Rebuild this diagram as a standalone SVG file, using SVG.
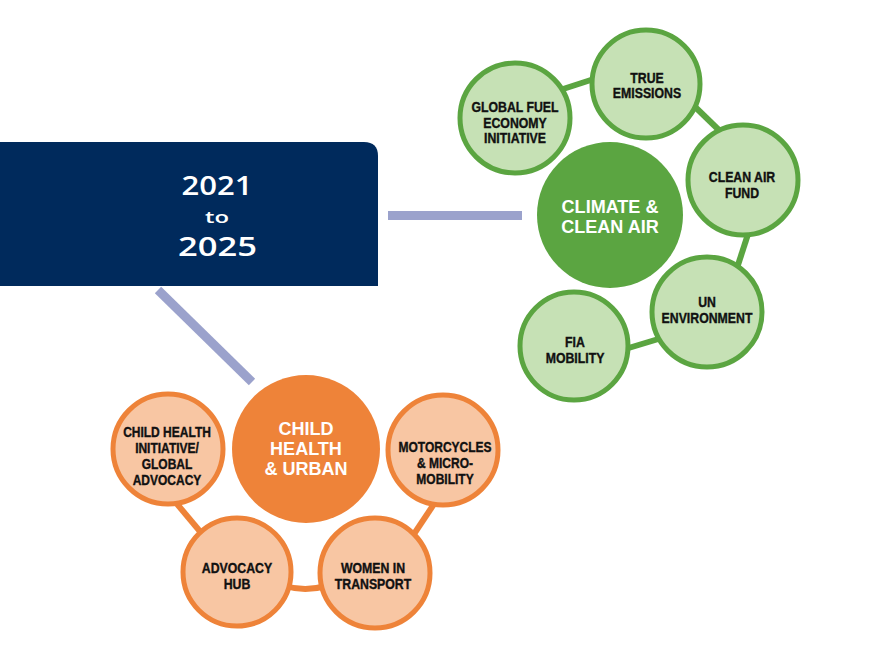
<svg xmlns="http://www.w3.org/2000/svg" width="889" height="665" viewBox="0 0 889 665">
<style>
.conn{stroke:#9ba2cc;stroke-width:9;fill:none}
.gl{stroke:#5ba541;stroke-width:6;fill:none}
.ol{stroke:#ee8339;stroke-width:6;fill:none}
.gs{fill:#c6e1b5;stroke:#5ba541;stroke-width:5}
.os{fill:#f8c6a3;stroke:#ee8339;stroke-width:5}
.lab{font-family:"Liberation Sans",Arial,sans-serif;font-weight:bold;font-size:15px;fill:#111;stroke:#111;stroke-width:0.4;text-anchor:middle}
.big{font-family:"Liberation Sans",Arial,sans-serif;font-weight:bold;font-size:19px;fill:#fff;text-anchor:middle}
.yr{font-family:"Open Sans",sans-serif;font-weight:600;fill:#fff;text-anchor:middle}
</style>
<rect width="889" height="665" fill="#fff"/>
<g id="connectors">
<line class="conn" x1="388" y1="215.5" x2="522" y2="215.5"/>
<line class="conn" x1="158" y1="290" x2="252" y2="382" stroke-width="10"/>
<line class="gl" x1="560" y1="90" x2="597" y2="78"/>
<line class="gl" x1="690" y1="102" x2="722" y2="133"/>
<line class="gl" x1="750" y1="228" x2="737" y2="268"/>
<line class="gl" x1="622" y1="350" x2="665" y2="337"/>
<line class="ol" x1="172" y1="498" x2="203" y2="535"/>
<path class="ol" d="M285 586 Q305 592 326 586"/>
<line class="ol" x1="438" y1="498" x2="410" y2="540"/>
</g>
<g id="period">
<path d="M-5 142 H364 Q378 142 378 156 V286 H-5 Z" fill="#002a5c"/>
<text class="yr" x="217" y="195" font-size="27" textLength="71" lengthAdjust="spacingAndGlyphs">2021</text>
<text class="yr" x="217" y="223" font-size="17" font-weight="400" textLength="24" lengthAdjust="spacingAndGlyphs">to</text>
<text class="yr" x="217.5" y="256" font-size="27" textLength="79" lengthAdjust="spacingAndGlyphs">2025</text>
</g>
<g id="climate">
<circle cx="610" cy="215" r="73" fill="#5ba541"/>
<g transform="translate(610,0) scale(0.95,1)"><text class="big" x="0" y="213">CLIMATE &amp;</text><text class="big" x="0" y="233">CLEAN AIR</text></g>
</g>
<g id="gfei">
<circle class="gs" cx="515" cy="118" r="55"/>
<g transform="translate(515,0) scale(0.82,1)"><text class="lab" x="0" y="112">GLOBAL FUEL</text><text class="lab" x="0" y="128">ECONOMY</text><text class="lab" x="0" y="143">INITIATIVE</text></g>
</g>
<g id="true-emissions">
<circle class="gs" cx="646" cy="84" r="54"/>
<g transform="translate(647,0) scale(0.82,1)"><text class="lab" x="0" y="83">TRUE</text><text class="lab" x="0" y="98">EMISSIONS</text></g>
</g>
<g id="clean-air-fund">
<circle class="gs" cx="743" cy="180" r="55"/>
<g transform="translate(742,0) scale(0.82,1)"><text class="lab" x="0" y="182">CLEAN AIR</text><text class="lab" x="0" y="198">FUND</text></g>
</g>
<g id="un-environment">
<circle class="gs" cx="707" cy="312" r="55"/>
<g transform="translate(707,0) scale(0.82,1)"><text class="lab" x="0" y="307">UN</text><text class="lab" x="0" y="323">ENVIRONMENT</text></g>
</g>
<g id="fia-mobility">
<circle class="gs" cx="574" cy="346" r="54"/>
<g transform="translate(575,0) scale(0.82,1)"><text class="lab" x="0" y="347">FIA</text><text class="lab" x="0" y="363">MOBILITY</text></g>
</g>
<g id="child-health">
<circle cx="306" cy="449" r="74" fill="#ee8339"/>
<g transform="translate(306,0) scale(0.95,1)"><text class="big" x="0" y="435">CHILD</text><text class="big" x="0" y="455">HEALTH</text><text class="big" x="0" y="475">&amp; URBAN</text></g>
</g>
<g id="chi">
<circle class="os" cx="168" cy="449" r="55"/>
<g transform="translate(167,0) scale(0.8,1)"><text class="lab" x="0" y="437">CHILD HEALTH</text><text class="lab" x="0" y="453">INITIATIVE/</text><text class="lab" x="0" y="469">GLOBAL</text><text class="lab" x="0" y="485">ADVOCACY</text></g>
</g>
<g id="motorcycles">
<circle class="os" cx="443" cy="450" r="55"/>
<g transform="translate(445,0) scale(0.8,1)"><text class="lab" x="0" y="452">MOTORCYCLES</text><text class="lab" x="0" y="468">&amp; MICRO-</text><text class="lab" x="0" y="484">MOBILITY</text></g>
</g>
<g id="advocacy-hub">
<circle class="os" cx="237" cy="572" r="54"/>
<g transform="translate(237,0) scale(0.82,1)"><text class="lab" x="0" y="573">ADVOCACY</text><text class="lab" x="0" y="589">HUB</text></g>
</g>
<g id="women-transport">
<circle class="os" cx="375" cy="573" r="55"/>
<g transform="translate(373,0) scale(0.82,1)"><text class="lab" x="0" y="573">WOMEN IN</text><text class="lab" x="0" y="589">TRANSPORT</text></g>
</g>
</svg>
